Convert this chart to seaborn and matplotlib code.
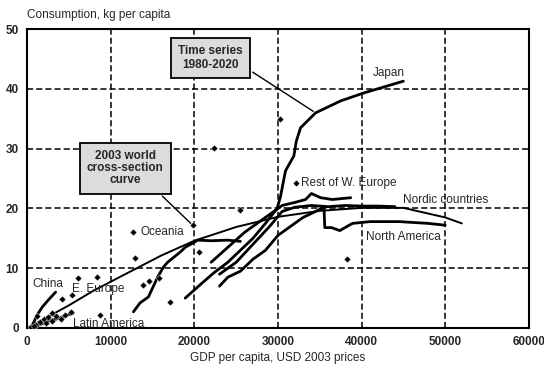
import numpy as np
import pandas as pd
import matplotlib
matplotlib.use("Agg")
import matplotlib.pyplot as plt
import seaborn as sns

# 2003 world cross-section curve
curve_x = [0, 2000, 5000, 8000, 12000, 16000, 20000, 25000, 30000, 35000, 40000, 45000, 50000, 52000]
curve_y = [0, 1.5, 3.8, 6.3, 9.2, 12.1, 14.6, 16.9, 18.6, 19.6, 20.1, 20.1, 18.5, 17.5]

# time series 1980-2020
japan_x = [18900, 20500, 22300, 24000, 25500, 27000, 28500, 29900, 30300, 30900, 31900, 32200, 32700, 34500, 37500, 40200, 45000]
japan_y = [5.0, 7.0, 9.2, 11.0, 13.0, 15.0, 17.5, 20.0, 22.0, 26.3, 28.8, 31.3, 33.5, 36.0, 38.0, 39.3, 41.3]

rwe_x = [22000, 24000, 26000, 27500, 29000, 30500, 32000, 33300, 34000, 35100, 36500, 38700]
rwe_y = [11.0, 13.5, 16.0, 17.5, 19.0, 20.5, 21.0, 21.5, 22.5, 21.8, 21.5, 21.8]

nordic_x = [23000, 25000, 27000, 29000, 30500, 32000, 34000, 36000, 38000, 40000, 42000, 44000]
nordic_y = [9.0, 11.0, 14.0, 17.0, 19.5, 20.2, 20.5, 20.3, 20.5, 20.4, 20.4, 20.3]

na_x = [23000, 24000, 25500, 27000, 28500, 30000, 31500, 33000, 34500, 35500, 35600, 36400, 37400, 38900, 41000, 44500, 48000, 50000]
na_y = [7.0, 8.5, 9.5, 11.5, 13.0, 15.5, 17.0, 18.5, 19.5, 20.2, 16.8, 16.8, 16.3, 17.5, 17.8, 17.8, 17.5, 17.2]

seu_x = [12700, 13500, 14500, 15600, 16300, 16800, 17500, 18300, 18900, 19800, 20400, 22000, 24000, 25500]
seu_y = [2.7, 4.2, 5.2, 8.5, 10.2, 11.0, 11.8, 12.7, 13.5, 14.2, 14.7, 14.6, 14.7, 14.5]

china_x = [500, 800, 1200, 1800, 2600, 3400]
china_y = [0.2, 1.0, 2.2, 3.5, 4.8, 6.0]

latam_x = [1500, 2500, 3500, 4500, 5500]
latam_y = [0.5, 1.2, 1.5, 2.0, 2.5]

# 2003 country points
pts_x = [22300, 30300, 32100, 38300, 12700, 19800, 20500, 17100, 15800, 13900, 14600, 12900,
         8400, 6100, 5400, 4200, 8700, 5200, 25500, 500, 1000, 1500, 2000, 2500, 3000, 3500,
         4000, 1200, 2200, 3000, 4500, 800]
pts_y = [30.2, 35.0, 24.2, 11.5, 16.0, 17.2, 12.7, 4.3, 8.3, 7.2, 7.8, 11.7,
         8.5, 8.3, 5.5, 4.8, 2.2, 2.7, 19.8, 0.2, 0.5, 1.0, 1.5, 1.8, 1.2, 2.0,
         1.5, 2.0, 0.8, 2.5, 2.2, 0.3]

sns.set_style("white")
plt.rcParams["font.family"] = ["Liberation Sans Narrow", "Liberation Sans", "DejaVu Sans"]

fig = plt.figure(figsize=(5.44, 3.74), dpi=100)
ax = fig.add_axes([0.05, 0.123, 0.922, 0.799])

ax.grid(True, color="black", linestyle=(0, (4, 2)), linewidth=1.1)
ax.set_axisbelow(True)

# cross-section curve
sns.lineplot(x=curve_x, y=curve_y, sort=False, color="black", linewidth=1.4, ax=ax)

series = [(japan_x, japan_y), (rwe_x, rwe_y), (nordic_x, nordic_y), (na_x, na_y),
          (seu_x, seu_y), (china_x, china_y), (latam_x, latam_y)]
for sx, sy in series:
    sns.lineplot(x=sx, y=sy, sort=False, color="black", linewidth=2, ax=ax)

sns.scatterplot(x=pts_x, y=pts_y, color="black", marker="D", s=12, ax=ax, zorder=5)

ax.set_xlim(0, 60000)
ax.set_ylim(0, 50)
ax.set_xticks(range(0, 60001, 10000))
ax.set_yticks(range(0, 51, 10))
ax.tick_params(length=0, labelsize=8.5, pad=6)
for lab in ax.get_xticklabels() + ax.get_yticklabels():
    lab.set_fontweight("bold")
for sp in ax.spines.values():
    sp.set_color("black")
    sp.set_linewidth(1.5)

ax.set_xlabel("GDP per capita, USD 2003 prices", fontsize=8.5, labelpad=3)
ax.set_ylabel("")
fig.text(0.05, 0.945, "Consumption, kg per capita", fontsize=8.5, ha="left", va="bottom")

fs = 8.5
ax.text(600, 7.3, "China", fontsize=fs, va="center")
ax.text(5400, 6.5, "E. Europe", fontsize=fs, va="center")
ax.text(5500, 0.7, "Latin America", fontsize=fs, va="center")
ax.text(13500, 16.0, "Oceania", fontsize=fs, va="center")
ax.text(32700, 24.2, "Rest of W. Europe", fontsize=fs, va="center")
ax.text(44900, 21.5, "Nordic countries", fontsize=fs, va="center")
ax.text(40500, 15.3, "North America", fontsize=fs, va="center")
ax.text(41300, 42.7, "Japan", fontsize=fs, va="center")

box = dict(boxstyle="square,pad=0.6", facecolor="#dcdcdc", edgecolor="black", linewidth=1.3)
ax.annotate("Time series\n1980-2020", xy=(34500, 36.0), xytext=(21900, 45.2),
            ha="center", va="center", fontsize=fs, fontweight="bold", bbox=box,
            arrowprops=dict(arrowstyle="-", color="black", linewidth=1, relpos=(1.0, 0.2)))
ax.annotate("2003 world\ncross-section\ncurve", xy=(19800, 17.2), xytext=(11740, 26.7),
            ha="center", va="center", fontsize=fs, fontweight="bold", bbox=box,
            linespacing=1.0,
            arrowprops=dict(arrowstyle="-", color="black", linewidth=1, relpos=(0.85, 0.0)))

plt.savefig("out.png", dpi=100)
